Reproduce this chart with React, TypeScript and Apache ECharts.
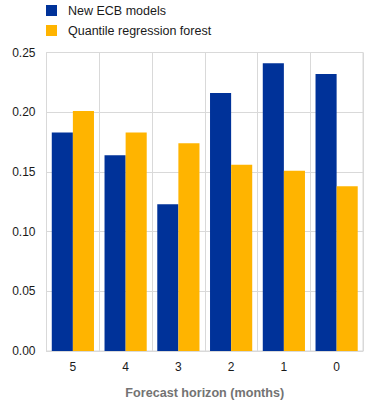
import React, { useEffect, useRef } from "react";
import * as echarts from "echarts";

const categories = ["5", "4", "3", "2", "1", "0"];
const newEcbModels = [0.183, 0.164, 0.123, 0.216, 0.241, 0.232];
const quantileForest = [0.201, 0.183, 0.174, 0.156, 0.151, 0.138];
const seriesNames = ["New ECB models", "Quantile regression forest"];
const xAxisTitle = "Forecast horizon (months)";

export default function App() {
  const ref = useRef<HTMLDivElement>(null);
  useEffect(() => {
    if (!ref.current) return;
    const chart = echarts.init(ref.current, undefined, { renderer: "svg" });
    const gridColor = "#d9d9d9";
    chart.setOption({
      animation: false,
      textStyle: { fontFamily: "Liberation Sans, Arial, sans-serif" },
      legend: {
        orient: "vertical",
        left: 46,
        top: 4,
        itemWidth: 11,
        itemHeight: 11,
        itemGap: 7,
        icon: "rect",
        padding: 0,
        textStyle: { fontSize: 12.5, color: "#1a1a1a", padding: [0, 0, 0, 6] },
        data: seriesNames,
      },
      grid: {
        left: 46.5,
        right: 9,
        top: 52.5,
        bottom: 47.5,
        show: true,
        borderColor: gridColor,
        borderWidth: 1,
      },
      xAxis: {
        type: "category",
        data: categories,
        name: xAxisTitle,
        nameLocation: "middle",
        nameGap: 35,
        nameTextStyle: { fontSize: 12.6, fontWeight: "bold", color: "#737373" },
        axisLine: { show: true, lineStyle: { color: gridColor } },
        axisTick: { show: false },
        axisLabel: { fontSize: 12, color: "#1a1a1a", margin: 10 },
        splitLine: { show: true, lineStyle: { color: gridColor } },
      },
      yAxis: {
        type: "value",
        min: 0,
        max: 0.25,
        interval: 0.05,
        axisLine: { show: false },
        axisTick: { show: false },
        axisLabel: {
          fontSize: 12,
          color: "#1a1a1a",
          margin: 11,
          formatter: (v: number) => v.toFixed(2),
        },
        splitLine: { show: true, lineStyle: { color: gridColor } },
      },
      series: [
        {
          name: seriesNames[0],
          type: "bar",
          data: newEcbModels,
          itemStyle: { color: "#003299" },
          barGap: "0%",
          barCategoryGap: "20%",
        },
        {
          name: seriesNames[1],
          type: "bar",
          data: quantileForest,
          itemStyle: { color: "#ffb400" },
          barGap: "0%",
          barCategoryGap: "20%",
        },
      ],
    });
    return () => chart.dispose();
  }, []);
  return <div ref={ref} style={{ width: 372, height: 404, position: "absolute", left: 0, top: 0 }} />;
}
